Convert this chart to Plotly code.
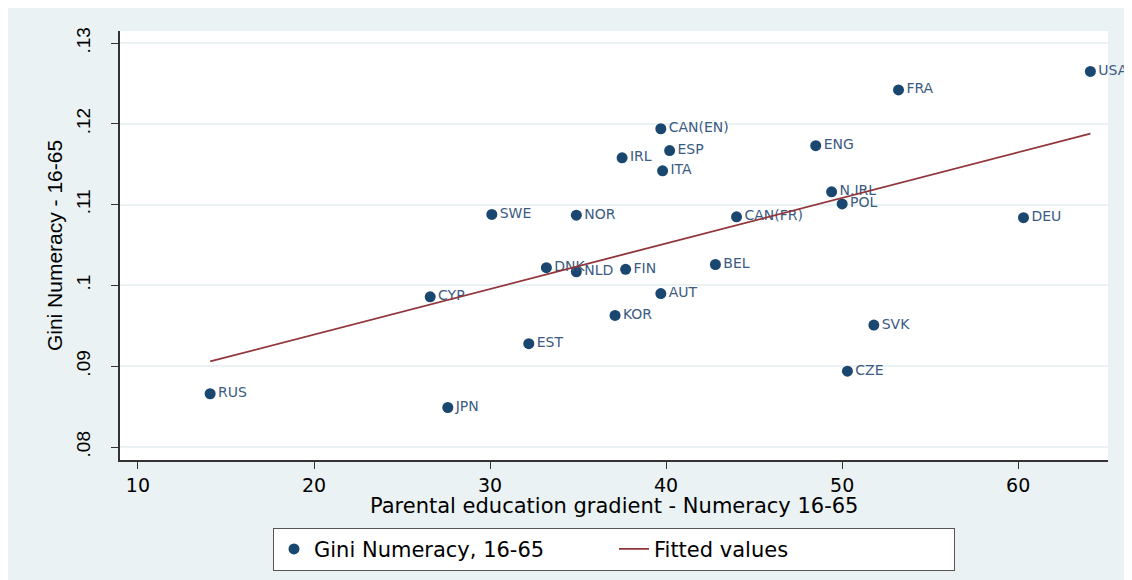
import plotly.graph_objects as go

# country codes with parental education gradient (x) and Gini numeracy (y)
countries = ['RUS', 'JPN', 'EST', 'CYP', 'SWE', 'NOR', 'DNK', 'NLD', 'FIN', 'KOR',
             'AUT', 'IRL', 'CAN(EN)', 'ESP', 'ITA', 'CAN(FR)', 'BEL', 'ENG', 'N.IRL',
             'POL', 'FRA', 'SVK', 'CZE', 'DEU', 'USA']
gradient = [14.1, 27.6, 32.2, 26.6, 30.1, 34.9, 33.2, 34.9, 37.7, 37.1,
            39.7, 37.5, 39.7, 40.2, 39.8, 44.0, 42.8, 48.5, 49.4,
            50.0, 53.2, 51.8, 50.3, 60.3, 64.1]
gini = [0.0866, 0.0849, 0.0928, 0.0986, 0.1088, 0.1087, 0.1022, 0.1017, 0.1020, 0.0963,
        0.0990, 0.1158, 0.1194, 0.1167, 0.1142, 0.1085, 0.1026, 0.1173, 0.1116,
        0.1101, 0.1242, 0.0951, 0.0894, 0.1084, 0.1265]

# fitted line end points
fit_x = [14.1, 64.1]
fit_y = [0.0906, 0.1188]

y_ticks = [0.08, 0.09, 0.10, 0.11, 0.12, 0.13]
y_ticktext = ['.08', '.09', '.1', '.11', '.12', '.13']
x_ticks = [10, 20, 30, 40, 50, 60]

NAVY = '#1a476f'
BG = '#eaf2f3'
ARIAL = 'Arial, Liberation Sans, sans-serif'
WIDE = 'DejaVu Sans, Arial, sans-serif'

fig = go.Figure()
fig.add_trace(go.Scatter(
    x=gradient, y=gini, mode='markers+text', text=countries,
    textposition='middle right', cliponaxis=False,
    textfont=dict(size=14, color='#3b5b82', family=WIDE),
    marker=dict(size=11, color=NAVY),
    name='Gini Numeracy, 16-65',
))
fig.add_trace(go.Scatter(
    x=fit_x, y=fit_y, mode='lines',
    line=dict(color='#90353b', width=1.8),
    name='Fitted values',
))

# page body adds 8px, so the figure is a little smaller than the window
fig.update_layout(
    width=1124, height=572,
    margin=dict(l=112, r=24, t=23, b=120, autoexpand=False),
    paper_bgcolor=BG,
    plot_bgcolor='white',
    font=dict(family=WIDE, size=22, color='black'),
    showlegend=True,
    legend=dict(
        orientation='h', x=0.5, xanchor='center', y=-0.158, yanchor='top',
        bgcolor='white', bordercolor='#555555', borderwidth=1,
        font=dict(size=21, family=WIDE), entrywidth=295, itemwidth=30,
    ),
    annotations=[dict(
        text='Parental education gradient - Numeracy 16-65',
        xref='paper', yref='paper', x=0.5, y=-0.107,
        xanchor='center', yanchor='middle', showarrow=False,
        font=dict(size=21, family=WIDE, color='black'),
    )],
)

fig.update_xaxes(
    range=[8.98, 65.1], tickvals=x_ticks, showgrid=False, zeroline=False,
    showline=True, linecolor='#333333', linewidth=1.5,
    ticks='outside', ticklen=7, tickcolor='#333333',
    tickfont=dict(size=19, family=WIDE),
)
fig.update_yaxes(
    range=[0.0784, 0.1315], tickvals=y_ticks, ticktext=y_ticktext,
    tickangle=-90, showgrid=True, gridcolor=BG, gridwidth=1.5,
    zeroline=False, showline=True, linecolor='#333333', linewidth=1.5,
    ticks='outside', ticklen=7, tickcolor='#333333', ticklabelstandoff=14,
    tickfont=dict(size=19, family=ARIAL),
    title=dict(text='Gini Numeracy - 16-65', font=dict(size=21, family=ARIAL),
               standoff=4),
)

fig.write_html('out.html')
